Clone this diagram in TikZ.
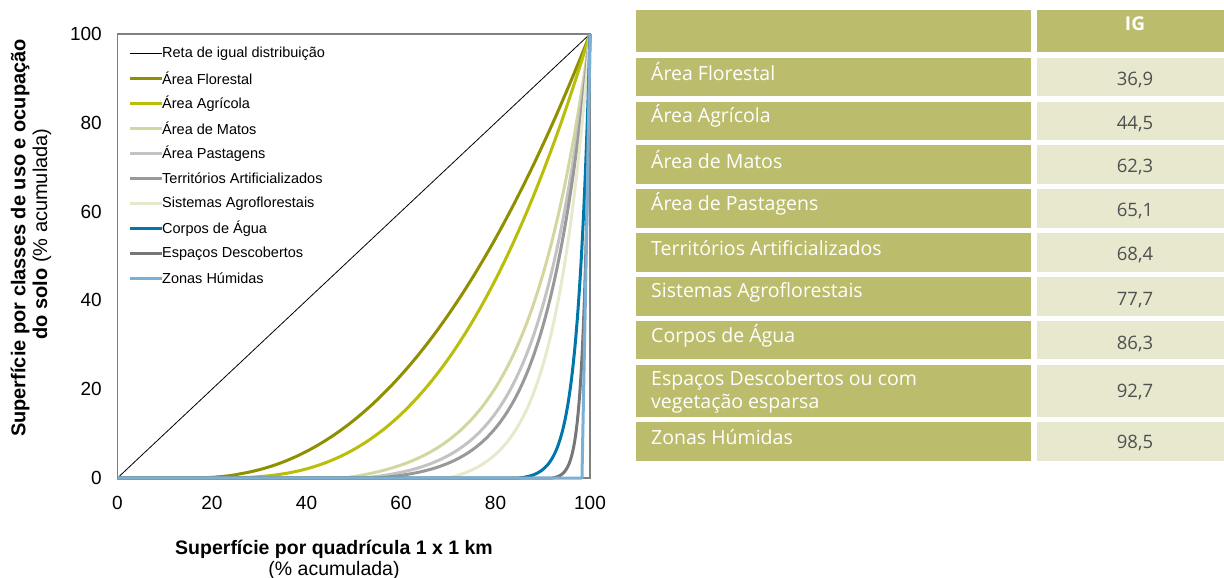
\documentclass[tikz,border=0pt]{standalone}
\usepackage{fontspec}
\setmainfont{Liberation Sans}
\newfontfamily\tabfont{Open Sans}
\definecolor{cflor}{RGB}{143,143,0}
\definecolor{cagri}{RGB}{186,190,10}
\definecolor{cmatos}{RGB}{212,214,160}
\definecolor{cpast}{RGB}{195,195,195}
\definecolor{cterr}{RGB}{153,153,153}
\definecolor{csist}{RGB}{232,232,204}
\definecolor{ccorp}{RGB}{0,119,170}
\definecolor{cespa}{RGB}{119,119,119}
\definecolor{czona}{RGB}{123,175,212}
\definecolor{cframe}{RGB}{128,128,128}
\definecolor{tabolive}{RGB}{187,189,108}
\definecolor{tabcream}{RGB}{232,232,207}
\definecolor{valtext}{RGB}{80,80,80}
\tikzset{
  ticklab/.style={font=\fontsize{19}{22}\selectfont, inner sep=0pt},
  legtxt/.style={font=\fontsize{14.5}{16}\selectfont, anchor=west, inner sep=0pt},
  reta/.style={draw=black, line width=0.8pt},
  curve/.style={line width=3pt, line join=round},
  flor/.style={curve, draw=cflor},
  agri/.style={curve, draw=cagri},
  matos/.style={curve, draw=cmatos},
  past/.style={curve, draw=cpast},
  terr/.style={curve, draw=cterr},
  sist/.style={curve, draw=csist},
  corp/.style={curve, draw=ccorp},
  espa/.style={curve, draw=cespa},
  zona/.style={curve, draw=czona},
  lcell/.style={fill=tabolive, draw=none, anchor=north west, inner sep=0pt, minimum width=395pt},
  vcell/.style={fill=tabcream, draw=none, anchor=north west, inner sep=0pt, minimum width=187pt},
  hcell/.style={fill=tabolive, draw=none, anchor=north west, inner sep=0pt},
  labtxt/.style={font=\tabfont\fontsize{19.5}{23}\selectfont, text=white, anchor=west, inner sep=0pt, align=left},
  valtxt/.style={font=\tabfont\fontsize{18.5}{22}\selectfont, text=valtext, inner sep=0pt},
}
\begin{document}
\begin{tikzpicture}[x=1pt,y=-1pt]
\useasboundingbox (0,0) rectangle (1224,578);

% ---------- chart ----------
\begin{scope}[shift={(117.5pt,-478pt)}, x=4.725pt, y=4.44pt]
  \draw[reta] (0,0) -- (100,100);
  \draw[flor] (0,0) -- (15,0) -- plot[domain=15.2:100, samples=80] (\x,{100*pow((\x-15)/85,2.3)});
  \draw[agri] (0,0) -- (20,0) -- plot[domain=20.2:100, samples=80] (\x,{100*pow((\x-20)/80,2.8)});
  % exponential-type curves, shifted to reach zero at x0
  \foreach \c/\xo/\s in {7.6/48/matos, 9.3/52/past, 10.6/55/terr, 13.2/70/sist, 38/85/corp, 76/92/espa} {
    \pgfmathsetmacro{\eo}{exp(\c*(\xo/100-1))}
    \draw[\s] (0,0) -- (\xo,0) -- plot[domain=\xo:100, samples=90] (\x,{100*(exp(\c*(\x/100-1))-\eo)/(1-\eo)});
  }
  \draw[cframe, line width=1.4pt] (0,0) rectangle (100,100);
  \draw[zona] (0,0) -- (98.3,0) -- (99.2,50) -- (100,100);
\end{scope}

% ---------- tick labels ----------
\foreach \v in {0,20,40,60,80,100} {
  \node[ticklab, anchor=east] (yt\v) at (102,{478-4.44*\v}) {\v};
  \node[ticklab] (xt\v) at ({117.5+4.725*\v},503) {\v};
}

% ---------- axis titles ----------
\node[font=\bfseries\fontsize{19.5}{22}\selectfont, inner sep=0pt] (xtitle1) at (334,549) {Superfície por quadrícula 1 x 1 km};
\node[font=\fontsize{19.5}{22}\selectfont, inner sep=0pt] (xtitle2) at (334,570) {(\% acumulada)};
\node[font=\bfseries\fontsize{20}{22}\selectfont, inner sep=0pt, rotate=90] (ytitle1) at (20,238) {Superfície por classes de uso e ocupação};
\node[font=\fontsize{20}{22}\selectfont, inner sep=0pt, rotate=90] (ytitle2) at (42,234) {\textbf{do solo} (\% acumulada)};

% ---------- legend ----------
\foreach \s/\t [count=\i] in {reta/Reta de igual distribuição, flor/Área Florestal, agri/Área Agrícola, matos/Área de Matos, past/Área Pastagens, terr/Territórios Artificializados, sist/Sistemas Agroflorestais, corp/Corpos de Água, espa/Espaços Descobertos, zona/Zonas Húmidas} {
  \node[legtxt] (leg\i) at (162,{53.3+25*(\i-1)}) {\t};
  \draw[\s] ([xshift=-32pt]leg\i.west) -- (leg\i.west);
}

% ---------- table ----------
\node[hcell, minimum width=395pt, minimum height=42pt] (h1) at (636,10) {};
\node[hcell, minimum width=187pt, minimum height=42pt] (h2) at (1037,10) {};
\node[font=\tabfont\bfseries\fontsize{19}{22}\selectfont, text=white, inner sep=0pt] (hig) at (1135,24) {IG};

\foreach \top/\h/\ly/\vy/\lab/\val [count=\i] in {
  58/38/72/80/Área Florestal/{36,9},
  102/38/116/124/Área Agrícola/{44,5},
  145/39/160/167/Área de Matos/{62,3},
  189/39/204/211/Área de Pastagens/{65,1},
  233/39/248/255/Territórios Artificializados/{68,4},
  277/39/292/300/Sistemas Agroflorestais/{77,7},
  321/38/336/344/Corpos de Água/{86,3},
  365/52/391.5/392/{Espaços Descobertos ou com\\vegetação esparsa}/{92,7},
  422/39/437/443/Zonas Húmidas/{98,5}} {
  \node[lcell, minimum height=\h pt] (lc\i) at (636,\top) {};
  \node[vcell, minimum height=\h pt] (vc\i) at (1037,\top) {};
  \node[labtxt] (lt\i) at (651,\ly) {\lab};
  \node[valtxt] (vt\i) at (1135,\vy) {\val};
}
\end{tikzpicture}
\end{document}
